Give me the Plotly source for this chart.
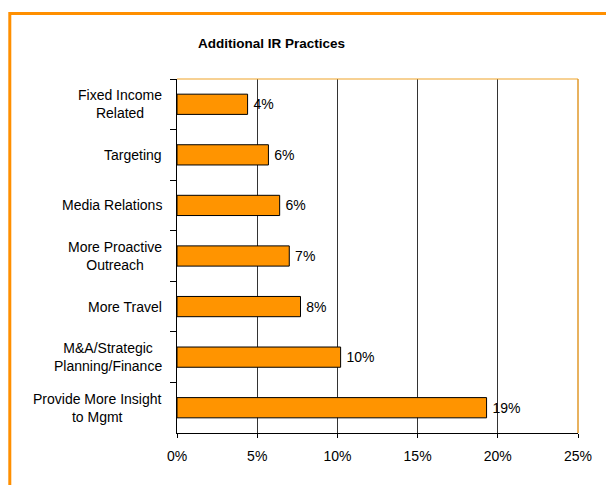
import plotly.graph_objects as go

# Survey results: share of respondents naming each additional IR practice
categories = [
    "Fixed Income<br>Related",
    "Targeting",
    "Media Relations",
    "More Proactive<br>Outreach",
    "More Travel",
    "M&A/Strategic<br>Planning/Finance",
    "Provide More Insight<br>to Mgmt",
]
values = [4.4, 5.7, 6.4, 7.0, 7.7, 10.2, 19.3]
x_ticks = [0, 5, 10, 15, 20, 25]
x_tick_labels = ["0%", "5%", "10%", "15%", "20%", "25%"]

FONT = "Liberation Sans, Arial, sans-serif"
ORANGE = "#FF9400"
FRAME = "#FF8F00"

# plot-area geometry in pixels
W, H = 606, 485
L, R, T, B = 177, 28, 79, 52
pw, ph = W - L - R, H - T - B

fig = go.Figure(
    go.Bar(
        x=values,
        y=categories,
        orientation="h",
        marker=dict(color=ORANGE, line=dict(color="#000000", width=1)),
        texttemplate="\u2009%{x:.0f}%",
        textposition="outside",
        textfont=dict(family=FONT, size=14, color="#000000"),
        cliponaxis=False,
        hoverinfo="skip",
    )
)

# category labels, centred line by line and right-aligned as a block
annotations = [
    dict(
        x=0, xref="paper", y=c, yref="y",
        text=c, showarrow=False,
        xanchor="right", yanchor="middle", align="center",
        xshift=-13,
        font=dict(family=FONT, size=14, color="#000000"),
    )
    for c in categories
]
annotations.append(
    dict(
        x=(271 - L) / pw, xref="paper", y=1 + (T - 44) / ph, yref="paper",
        text="<b>Additional IR Practices</b>", showarrow=False,
        xanchor="center", yanchor="middle",
        font=dict(family=FONT, size=13.5, color="#000000"),
    )
)

shapes = [
    # outer chart frame (runs off the right and bottom edges)
    dict(type="rect", xref="paper", yref="paper",
         x0=(9.8 - L) / pw, x1=(W + 20 - L) / pw,
         y0=-(B + 20) / ph, y1=1 + (T - 13.5) / ph,
         line=dict(color=FRAME, width=3), layer="above"),
    # plot-area top and right borders
    dict(type="line", xref="paper", yref="paper", x0=0, x1=1, y0=1, y1=1,
         line=dict(color="#F0A428", width=1.2), layer="above"),
    dict(type="line", xref="paper", yref="paper", x0=1, x1=1, y0=0, y1=1,
         line=dict(color="#E0982A", width=1.5), layer="above"),
]

fig.update_layout(
    width=W, height=H,
    margin=dict(l=L, r=R, t=T, b=B, pad=0),
    paper_bgcolor="#FFFFFF",
    plot_bgcolor="#FFFFFF",
    showlegend=False,
    bargap=0.6,
    annotations=annotations,
    shapes=shapes,
    font=dict(family=FONT, size=14, color="#000000"),
)

fig.update_xaxes(
    range=[0, 25],
    tickvals=x_ticks,
    ticktext=x_tick_labels,
    showgrid=True, gridcolor="#333333", gridwidth=1,
    showline=True, linecolor="#000000", linewidth=1.2,
    ticks="outside", ticklen=4, tickcolor="#000000",
    ticklabelstandoff=6,
    tickfont=dict(family=FONT, size=14, color="#000000"),
    zeroline=False, fixedrange=True,
)
fig.update_yaxes(
    autorange="reversed",
    showticklabels=False,
    tickson="boundaries",
    ticks="outside", ticklen=6, tickcolor="#000000",
    showgrid=False,
    showline=True, linecolor="#000000", linewidth=1.2,
    zeroline=False, fixedrange=True,
)

fig.write_html("out.html")
